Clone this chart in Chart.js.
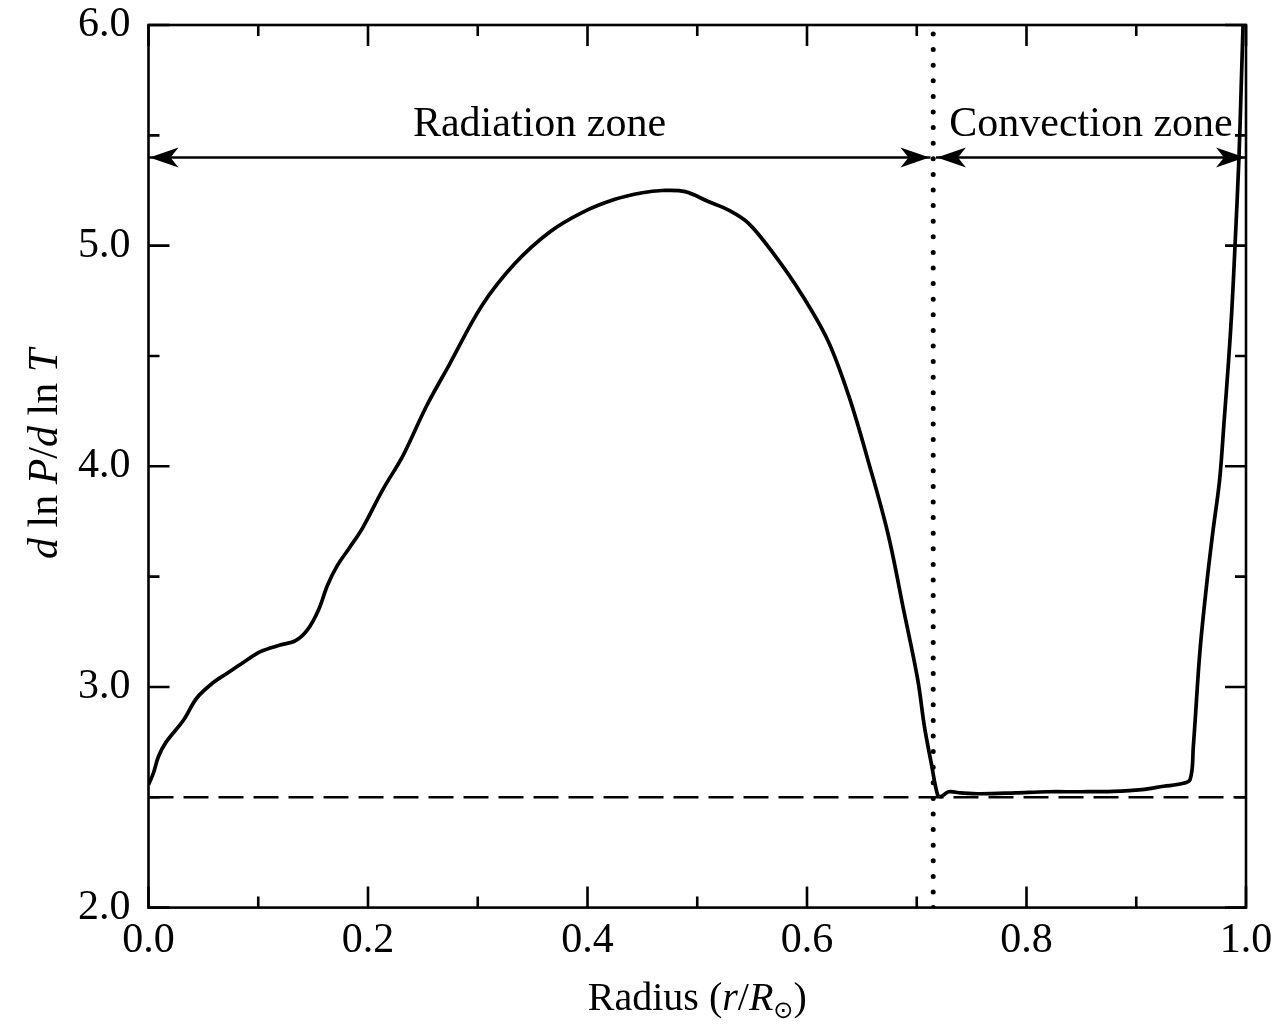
<!DOCTYPE html>
<html><head><meta charset="utf-8">
<script src="https://cdn.jsdelivr.net/npm/chart.js@4/dist/chart.umd.min.js"></script>
<style>html,body{margin:0;padding:0;background:#fff}#wrap{width:1284px;height:1026px;position:relative}canvas{display:block}</style>
</head><body><div id="wrap"><canvas id="c" width="1284" height="1026" style="width:1284px;height:1026px"></canvas></div>
<script>
// ---- data ----
const radius = [0.000,0.0045,0.009,0.016,0.032,0.044,0.059,0.071,0.086,0.102,0.120,0.134,0.145,0.155,0.163,0.172,0.183,0.195,0.213,0.232,0.253,0.274,0.304,0.334,0.365,0.395,0.425,0.450,0.468,0.489,0.510,0.529,0.547,0.570,0.595,0.619,0.638,0.656,0.674,0.688,0.701,0.707,0.713,0.719,0.722,0.729,0.740,0.758,0.790,0.819,0.850,0.879,0.905,0.925,0.940,0.949,0.952,0.958,0.9645,0.970,0.976,0.980,0.984,0.987,0.990,0.9936,0.9955,0.9973];
const gradient = [2.557,2.61,2.684,2.75,2.85,2.95,3.02,3.06,3.11,3.16,3.19,3.21,3.26,3.35,3.46,3.55,3.63,3.72,3.89,4.05,4.27,4.46,4.73,4.92,5.06,5.15,5.21,5.24,5.25,5.245,5.20,5.16,5.10,4.96,4.78,4.57,4.32,4.02,3.69,3.35,3.03,2.82,2.66,2.51,2.503,2.525,2.52,2.516,2.52,2.525,2.525,2.527,2.535,2.55,2.56,2.58,2.73,3.16,3.48,3.71,3.94,4.20,4.47,4.70,5.00,5.40,5.70,6.0];
const adiabaticLevel = 2.5;
const convectionBase = 0.715;
const zoneNames = ['Radiation zone', 'Convection zone'];
const zoneStart = [0.0, 0.7175];
const zoneEnd = [0.7125, 1.0];
const arrowLevel = 5.4;
const zoneLabelLevel = 5.5;
const xMajorTicks = [0.0, 0.2, 0.4, 0.6, 0.8, 1.0];
const xMinorTicks = [0.1, 0.3, 0.5, 0.7, 0.9];
const yMajorTicks = [2.0, 3.0, 4.0, 5.0, 6.0];
const yMinorTicks = [2.5, 3.5, 4.5, 5.5];

const SERIF = '"Liberation Serif", "DejaVu Serif", serif';

function drawSegments(ctx, segs, cx, cy) {
  let total = 0;
  const widths = segs.map(s => { ctx.font = s[1]; const w = ctx.measureText(s[0]).width; total += w; return w; });
  let xx = cx - total / 2;
  ctx.textAlign = 'left';
  ctx.textBaseline = 'alphabetic';
  segs.forEach((s, i) => { ctx.font = s[1]; ctx.fillText(s[0], xx, cy + (s[2] || 0)); xx += widths[i]; });
}

function arrowHead(ctx, tx, ty, dir) {
  const L = 29, W = 10, N = 21;
  ctx.beginPath();
  ctx.moveTo(tx, ty);
  ctx.lineTo(tx - dir * L, ty - W);
  ctx.lineTo(tx - dir * N, ty);
  ctx.lineTo(tx - dir * L, ty + W);
  ctx.closePath();
  ctx.fill();
}

const decor = {
  id: 'decor',
  afterDatasetsDraw(chart) {
    const {ctx, chartArea: a, scales: {x, y}} = chart;
    ctx.save();
    ctx.strokeStyle = '#000';
    ctx.fillStyle = '#000';
    ctx.lineWidth = 2.6;
    ctx.lineCap = 'butt';
    ctx.strokeRect(a.left, a.top, a.right - a.left, a.bottom - a.top);
    ctx.beginPath();
    const tick = (v, len, horiz) => {
      if (horiz) {
        const px = x.getPixelForValue(v);
        ctx.moveTo(px, a.bottom); ctx.lineTo(px, a.bottom - len);
        ctx.moveTo(px, a.top); ctx.lineTo(px, a.top + len);
      } else {
        const py = y.getPixelForValue(v);
        ctx.moveTo(a.left, py); ctx.lineTo(a.left + len, py);
        ctx.moveTo(a.right, py); ctx.lineTo(a.right - len, py);
      }
    };
    xMajorTicks.forEach(v => tick(v, 21, true));
    xMinorTicks.forEach(v => tick(v, 11, true));
    yMajorTicks.forEach(v => tick(v, 21, false));
    yMinorTicks.forEach(v => tick(v, 11, false));
    ctx.stroke();
    const ay = y.getPixelForValue(arrowLevel);
    for (let i = 0; i < zoneNames.length; i++) {
      arrowHead(ctx, x.getPixelForValue(zoneStart[i]) + 1, ay, -1);
      arrowHead(ctx, x.getPixelForValue(zoneEnd[i]) - 1, ay, 1);
    }
    ctx.font = '42px ' + SERIF;
    ctx.textAlign = 'center';
    ctx.textBaseline = 'alphabetic';
    const ly = y.getPixelForValue(zoneLabelLevel);
    for (let i = 0; i < zoneNames.length; i++) {
      const cx = (x.getPixelForValue(zoneStart[i]) + x.getPixelForValue(zoneEnd[i])) / 2;
      ctx.fillText(zoneNames[i], cx, ly + 1);
    }
    const rf = '40px ' + SERIF, itf = 'italic 40px ' + SERIF, sf = '24px "DejaVu Sans", ' + SERIF;
    drawSegments(ctx, [['Radius (', rf], ['r', itf], ['/', rf], ['R', itf], ['\u2299', sf, 8], [')', rf]], (a.left + a.right) / 2, 1010);
    const yf = '42px ' + SERIF, yi = 'italic 42px ' + SERIF;
    ctx.save();
    ctx.translate(57, 454);
    ctx.rotate(-Math.PI / 2);
    drawSegments(ctx, [['d', yi], [' ln ', yf], ['P', yi], ['/', yf], ['d', yi], [' ln ', yf], ['T', yi]], 0, 0);
    ctx.restore();
    ctx.restore();
  }
};

const profile = radius.map((r, i) => ({x: r, y: gradient[i]}));

new Chart(document.getElementById('c'), {
  type: 'scatter',
  data: {
    datasets: [
      {label: 'gradient', data: profile, showLine: true, borderColor: '#000', borderWidth: 3.7, pointRadius: 0, tension: 0.35, fill: false},
      {label: 'adiabatic', data: [{x: 0, y: adiabaticLevel}, {x: 1, y: adiabaticLevel}], showLine: true, borderColor: '#000', borderWidth: 2.5, borderDash: [25, 10], pointRadius: 0},
      {label: 'base', data: [{x: convectionBase, y: 2}, {x: convectionBase, y: 6}], showLine: true, borderColor: '#000', borderWidth: 5, borderDash: [0, 15.6], borderCapStyle: 'round', pointRadius: 0},
      {label: 'rad', data: [{x: zoneStart[0], y: arrowLevel}, {x: zoneEnd[0], y: arrowLevel}], showLine: true, borderColor: '#000', borderWidth: 2.5, pointRadius: 0},
      {label: 'conv', data: [{x: zoneStart[1], y: arrowLevel}, {x: zoneEnd[1], y: arrowLevel}], showLine: true, borderColor: '#000', borderWidth: 2.5, pointRadius: 0}
    ]
  },
  options: {
    responsive: false,
    animation: false,
    devicePixelRatio: 1,
    layout: {padding: {left: 60, right: 38, top: 25, bottom: 52}},
    plugins: {legend: {display: false}, tooltip: {enabled: false}},
    scales: {
      x: {
        type: 'linear', min: 0, max: 1,
        afterBuildTicks: s => { s.ticks = xMajorTicks.map(v => ({value: v})); },
        ticks: {color: '#000', font: {family: SERIF, size: 42}, padding: 8, maxRotation: 0, callback: v => Number(v).toFixed(1)},
        grid: {display: false, drawTicks: false},
        border: {display: false}
      },
      y: {
        type: 'linear', min: 2, max: 6,
        afterBuildTicks: s => { s.ticks = yMajorTicks.map(v => ({value: v})); },
        ticks: {color: '#000', font: {family: SERIF, size: 42, lineHeight: 0.3}, padding: 18, callback: v => Number(v).toFixed(1)},
        grid: {display: false, drawTicks: false},
        border: {display: false}
      }
    }
  },
  plugins: [decor]
});
</script>
</body></html>
